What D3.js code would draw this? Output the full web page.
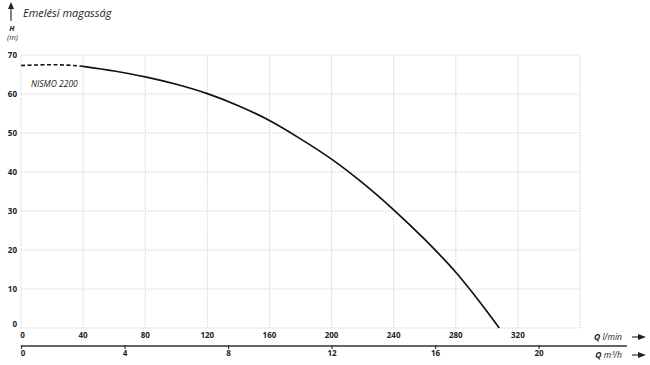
<!DOCTYPE html>
<html><head><meta charset="utf-8">
<script src="https://cdn.jsdelivr.net/npm/d3@7"></script>
<style>
body{margin:0;background:#fff;}
svg{display:block;font-family:"Open Sans",sans-serif;}
</style></head><body>
<svg id="c" width="650" height="365"></svg>
<script>
// Data
const qTicks = [0,40,80,120,160,200,240,280,320];
const hTicks = [0,10,20,30,40,50,60,70];
const m3Ticks = [0,4,8,12,16,20];
const dashedQ = [0,10,20,30,40];
const dashedH = [67.3,67.45,67.5,67.4,67.1];
const solidQ = [40,60,80,100,120,140,160,180,200,220,240,260,280,300,308];
const solidH = [67.1,65.9,64.4,62.5,60.1,57.0,53.2,48.5,43.3,37.2,30.3,22.7,14.3,4.3,0];
const seriesName = "NISMO 2200";

const svg = d3.select("#c");
const x = d3.scaleLinear().domain([0,360]).range([21,580]);
const xm = d3.scaleLinear().domain([0,21.6]).range([21,580]);
const y = d3.scaleLinear().domain([0,70]).range([328,55]);

// gridlines
const gridColor = "#c8c8c8";
const g = svg.append("g");
g.selectAll("line.v").data(qTicks.concat([360])).join("line")
  .attr("x1",d=>x(d)).attr("x2",d=>x(d)).attr("y1",y(0)).attr("y2",y(70))
  .attr("stroke",gridColor).attr("stroke-width",0.8).attr("stroke-dasharray","1.5,1.2");
g.selectAll("line.h").data(hTicks).join("line")
  .attr("x1",x(0)).attr("x2",x(360)).attr("y1",d=>y(d)).attr("y2",d=>y(d))
  .attr("stroke",gridColor).attr("stroke-width",0.8).attr("stroke-dasharray","1.5,1.2");

// Y labels
svg.append("g").selectAll("text").data(hTicks).join("text")
  .attr("x",17).attr("y",d=>y(d)+ (d===0?-1:3))
  .attr("text-anchor","end").attr("font-size",8).attr("font-weight","bold").attr("fill","#222")
  .text(d=>d);

// top X labels (l/min)
svg.append("g").selectAll("text").data(qTicks).join("text")
  .attr("x",d=>x(d)+(d===0?1.5:0)).attr("y",337.5)
  .attr("text-anchor","middle").attr("font-size",8).attr("font-weight","bold").attr("fill","#222")
  .text(d=>d);

// bottom axis (m3/h)
const ax = svg.append("g").attr("transform","translate(0,346)")
  .call(d3.axisBottom(xm).tickValues(m3Ticks).tickSize(3).tickSizeOuter(0));
ax.select(".domain").remove();
ax.selectAll(".tick line").attr("stroke","#333").attr("stroke-width",1.2).attr("y1",-1);
ax.selectAll(".tick text").attr("font-size",8).attr("font-weight","bold").attr("fill","#222")
  .attr("font-family","Open Sans").attr("dy","0.6em").attr("y",5).attr("dx",d=>d===0?1.5:0);
svg.append("line").attr("x1",xm(0)).attr("x2",627).attr("y1",346).attr("y2",346)
  .attr("stroke","#333").attr("stroke-width",1.3);

// curve
const line = d3.line().x(d=>x(d[0])).y(d=>y(d[1])).curve(d3.curveMonotoneX);
svg.append("path").datum(dashedQ.map((q,i)=>[q,dashedH[i]]))
  .attr("d",line).attr("fill","none").attr("stroke","#111").attr("stroke-width",1.6)
  .attr("stroke-dasharray","4,2.5");
svg.append("path").datum(solidQ.map((q,i)=>[q,solidH[i]]))
  .attr("d",line).attr("fill","none").attr("stroke","#111").attr("stroke-width",1.7);

// series label
svg.append("text").attr("x",31).attr("y",87).attr("font-size",8.5).attr("font-style","italic")
  .attr("fill","#222").text(seriesName);

// title
svg.append("text").attr("x",23).attr("y",17).attr("font-size",11).attr("font-style","italic")
  .attr("fill","#222").text("Emelési magasság");
svg.append("line").attr("x1",11).attr("x2",11).attr("y1",21).attr("y2",7)
  .attr("stroke","#222").attr("stroke-width",1.1);
svg.append("path").attr("d","M11,2 L8,9 L14,9 Z").attr("fill","#222");
svg.append("text").attr("x",12).attr("y",31).attr("text-anchor","middle").attr("font-size",7.5)
  .attr("font-weight","bold").attr("font-style","italic").attr("fill","#222").text("H");
svg.append("text").attr("x",12.5).attr("y",40).attr("text-anchor","middle").attr("font-size",7.5)
  .attr("font-style","italic").attr("fill","#222").text("(m)");

// axis unit labels with arrows
function unit(yy, q, rest){
  const t = svg.append("text").attr("x",622).attr("y",yy+3).attr("text-anchor","end")
    .attr("font-size",8.5).attr("font-style","italic").attr("fill","#222");
  t.append("tspan").attr("font-weight","bold").text(q+" ");
  t.append("tspan").text(rest);
  svg.append("line").attr("x1",632).attr("x2",640).attr("y1",yy).attr("y2",yy)
    .attr("stroke","#222").attr("stroke-width",1.1);
  svg.append("path").attr("d",`M646,${yy} L638,${yy-3} L638,${yy+3} Z`).attr("fill","#222");
}
unit(337,"Q","l/min");
unit(355,"Q","m³/h");
</script>
</body></html>
